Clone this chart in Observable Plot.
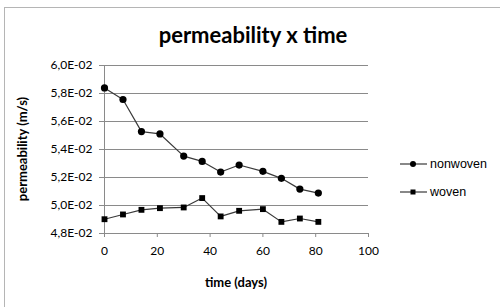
<!DOCTYPE html>
<html><head><meta charset="utf-8">
<script src="https://cdn.jsdelivr.net/npm/d3@7"></script>
<script src="https://cdn.jsdelivr.net/npm/@observablehq/plot@0.6"></script>
<style>body{margin:0;background:#fff;overflow:hidden}</style>
</head><body><div id="chart"></div>
<script>
const days = [0, 7, 14, 21, 30, 37, 44, 51, 60, 67, 74, 81];
const nonwoven = [0.05840, 0.05757, 0.05528, 0.05511, 0.05353, 0.05315, 0.05239, 0.05289, 0.05244, 0.05194, 0.05117, 0.05089];
const woven = [0.04902, 0.04936, 0.04969, 0.04981, 0.04986, 0.05053, 0.04922, 0.04962, 0.04974, 0.04883, 0.04907, 0.04883];
const seriesNames = ["nonwoven", "woven"];
const xTicks = [0, 20, 40, 60, 80, 100];
const yTicks = [0.048, 0.050, 0.052, 0.054, 0.056, 0.058, 0.060];
const titleText = "permeability x time";
const xLabel = "time (days)";
const yLabel = "permeability (m/s)";

const data = days.flatMap((d, i) => [
  {day: d, value: nonwoven[i], series: seriesNames[0]},
  {day: d, value: woven[i], series: seriesNames[1]}
]);
const fmt = v => (v * 100).toFixed(1).replace(".", ",") + "E-02";
const gray = "#8a8a8a";

const plot = Plot.plot({
  width: 500, height: 307,
  marginLeft: 104, marginRight: 132, marginTop: 65, marginBottom: 74,
  style: {fontFamily: "Lato", fontSize: "12px", color: "#000", background: "#fff", overflow: "visible"},
  x: {domain: [0, 100]},
  y: {domain: [0.048, 0.060]},
  marks: [
    Plot.gridY(yTicks, {stroke: gray, strokeOpacity: 1}),
    Plot.ruleX([0], {stroke: gray}),
    Plot.ruleY([0.048], {stroke: gray}),
    Plot.axisY({ticks: yTicks, tickFormat: fmt, tickSize: 5, tickPadding: 7, stroke: gray, label: null}),
    Plot.axisX({ticks: xTicks, tickSize: 4, tickPadding: 9, stroke: gray, label: null}),
    Plot.line(data, {x: "day", y: "value", z: "series", stroke: "#3a3a3a", strokeWidth: 1.2}),
    Plot.dot(data.filter(d => d.series === seriesNames[0]), {x: "day", y: "value", r: 3.6, fill: "#000", symbol: "circle"}),
    Plot.dot(data.filter(d => d.series === seriesNames[1]), {x: "day", y: "value", r: 3.3, fill: "#000", symbol: "square"})
  ]
});
document.getElementById("chart").appendChild(plot);

const svg = d3.select(plot);
svg.insert("rect", ":first-child")
  .attr("x", 4.5).attr("y", 7.5).attr("width", 600).attr("height", 400)
  .attr("fill", "none").attr("stroke", "#b5b5b5");
svg.append("text").text(titleText)
  .attr("x", 253).attr("y", 43).attr("text-anchor", "middle")
  .style("font", "bold 22px Lato").attr("fill", "#000");
svg.append("text").text(xLabel)
  .attr("x", 236).attr("y", 287).attr("text-anchor", "middle")
  .style("font", "bold 13px Lato").attr("fill", "#000");
svg.append("text").text(yLabel)
  .attr("transform", "translate(27,149) rotate(-90)").attr("text-anchor", "middle")
  .style("font", "bold 13px Lato").attr("fill", "#000");

const legY = [164, 192];
seriesNames.forEach((name, i) => {
  const g = svg.append("g").attr("transform", `translate(0,${legY[i]})`);
  g.append("line").attr("x1", 400).attr("x2", 427).attr("y1", 0).attr("y2", 0)
    .attr("stroke", "#3a3a3a").attr("stroke-width", 1.2);
  if (i === 0) g.append("circle").attr("cx", 413).attr("cy", 0).attr("r", 3).attr("fill", "#000");
  else g.append("rect").attr("x", 410.5).attr("y", -2.5).attr("width", 5).attr("height", 5).attr("fill", "#000");
  g.append("text").text(name).attr("x", 430).attr("y", 0).attr("dy", "0.35em")
    .attr("text-anchor", "start")
    .style("font", "12.5px 'Liberation Sans'").attr("fill", "#000");
});
</script>
</body></html>
